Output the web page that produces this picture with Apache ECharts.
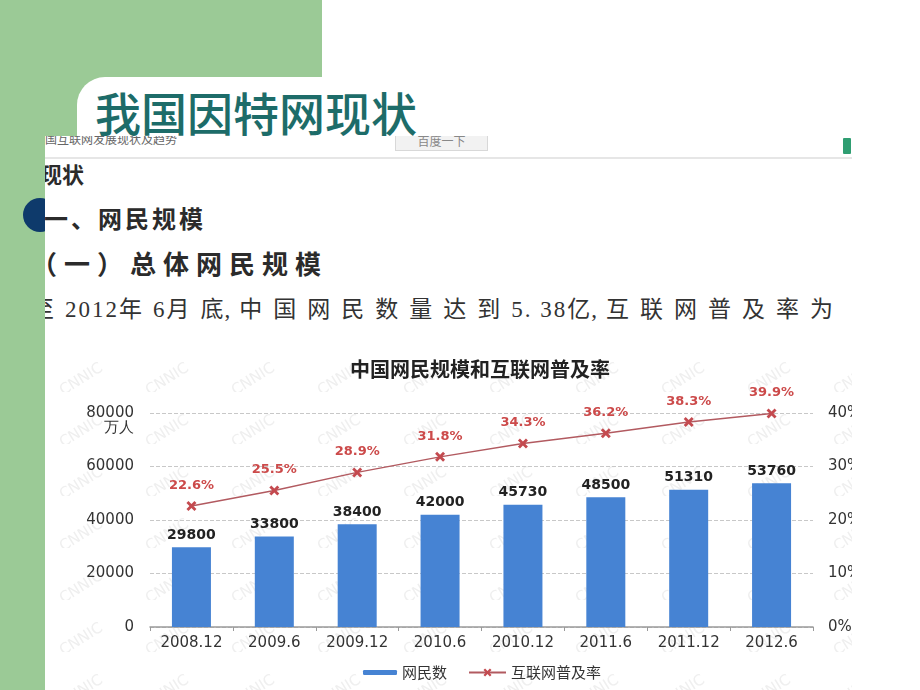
<!DOCTYPE html>
<html>
<head>
<meta charset="utf-8">
<script src="https://cdn.jsdelivr.net/npm/echarts@6/dist/echarts.min.js"></script>
<style>
    body{margin:0;width:920px;height:690px;position:relative;overflow:hidden;background:#fff;font-family:"Noto Sans CJK SC",sans-serif;}
    .green{position:absolute;background:#9bca96;}
    #panel{position:absolute;left:77px;top:77px;right:0;bottom:0;background:#fff;border-top-left-radius:28px;}
    #dot{position:absolute;left:23px;top:198px;width:34px;height:34px;border-radius:50%;background:#0e3a6b;}
    #shot{position:absolute;left:45px;top:136px;width:807px;height:554px;background:#fff;overflow:hidden;}
    #shot .t{position:absolute;white-space:nowrap;color:#2b2b2b;font-weight:bold;}
    #shot .d{letter-spacing:2px;}
    #shot .k{letter-spacing:1px;}
    #shot .c{letter-spacing:9px;}
    #mainTitle{position:absolute;left:95px;top:84px;font-size:46px;line-height:54px;color:#1d6c69;font-weight:500;white-space:nowrap;z-index:5;}
    #chart{position:absolute;left:0;top:204px;width:807px;height:350px;
        background-image:url("data:image/svg+xml,%3Csvg xmlns='http://www.w3.org/2000/svg' width='86' height='52'%3E%3Ctext x='8' y='40' transform='rotate(-32 40 30)' font-family='DejaVu Sans' font-size='15' fill='%23efefef'%3ECNNIC%3C/text%3E%3C/svg%3E");}
</style>
</head>
<body>
<div class="green" style="left:0;top:0;width:322px;height:120px;"></div>
<div class="green" style="left:0;top:0;width:100px;height:690px;"></div>
<div id="panel"></div>
<div id="dot"></div>
<div id="shot">
    <div style="position:absolute;left:0;top:-4px;font-size:12px;line-height:14px;color:#666;white-space:nowrap;">国互联网发展现状及趋势</div>
    <div style="position:absolute;left:350px;top:-3px;width:91px;height:16px;background:#f2f2f2;border:1px solid #d8d8d8;font-size:12px;line-height:14px;color:#888;text-align:center;">百度一下</div>
    <div style="position:absolute;left:0;top:21px;width:807px;height:2px;background:#e6e6e6;"></div>
    <div style="position:absolute;left:798px;top:2px;width:8px;height:16px;background:#2f9e72;border-radius:1px;"></div>
    <div class="t" style="left:-5px;top:26px;font-size:22px;line-height:22px;">现状</div>
    <div class="t" style="left:-1px;top:70px;font-size:24px;line-height:24px;letter-spacing:3px;">一、网民规模</div>
    <div class="t" style="left:-14px;top:114px;font-size:26px;line-height:26px;letter-spacing:7px;">（一）总体网民规模</div>
    <div class="t" style="left:-14px;top:162px;font-size:23px;line-height:23px;letter-spacing:11px;font-weight:normal;color:#333;font-family:'Liberation Serif','Noto Sans CJK SC',serif;">至<span class="d">2012</span>年<span class="d">6</span>月<span class="k">底</span><span class="c">,</span>中国网民数量达到<span class="d">5. 38</span><span class="k">亿</span><span class="c">,</span>互联网普及率为</div>
    <div id="chart"></div>
</div>
<div id="mainTitle">我国因特网现状</div>

<script>
var categories = ['2008.12', '2009.6', '2009.12', '2010.6', '2010.12', '2011.6', '2011.12', '2012.6'];
var netizens = [29800, 33800, 38400, 42000, 45730, 48500, 51310, 53760];
var penetration = [22.6, 25.5, 28.9, 31.8, 34.3, 36.2, 38.3, 39.9];

var crossIcon = 'path://M2,0L5,3L8,0L10,2L7,5L10,8L8,10L5,7L2,10L0,8L3,5L0,2Z';
var numFont = "'DejaVu Sans','Noto Sans CJK SC',sans-serif";
var cjkFont = "'Noto Sans CJK SC',sans-serif";

var chartDom = document.getElementById('chart');
var myChart = echarts.init(chartDom);
var option = {
    animation: false,
    title: {
        text: '中国网民规模和互联网普及率',
        left: 430,
        top: 14,
        textAlign: 'center',
        textStyle: {
            fontSize: 20,
            fontWeight: 'bold',
            color: '#222',
            fontFamily: cjkFont
        }
    },
    graphic: [
        {
            type: 'text',
            right: 718,
            top: 80,
            style: { text: '万人', fontSize: 15, fill: '#333', font: '15px ' + cjkFont }
        }
    ],
    legend: [
        {
            data: ['网民数'],
            left: 313,
            top: 320,
            itemWidth: 34,
            itemHeight: 5,
            textStyle: { fontSize: 15, color: '#333', fontFamily: cjkFont }
        },
        {
            data: ['互联网普及率'],
            left: 418,
            top: 320,
            itemWidth: 37,
            itemHeight: 10,
            textStyle: { fontSize: 15, color: '#333', fontFamily: cjkFont }
        }
    ],
    grid: {
        left: 105,
        right: 39,
        top: 73,
        bottom: 63,
        containLabel: false,
        outerBoundsMode: 'none'
    },
    xAxis: {
        type: 'category',
        data: categories,
        axisLine: { lineStyle: { color: '#9a9a9a', width: 1.5 } },
        axisTick: { show: true, length: 4, lineStyle: { color: '#9a9a9a' } },
        axisLabel: { fontSize: 15, color: '#333', margin: 9, fontFamily: numFont }
    },
    yAxis: [
        {
            type: 'value',
            min: 0,
            max: 80000,
            interval: 20000,
            axisLine: { show: false },
            axisTick: { show: false },
            axisLabel: {
                fontSize: 15, color: '#333', margin: 16, fontFamily: numFont,
                formatter: function (v) { return String(v); }
            },
            splitLine: { show: true, lineStyle: { type: 'dashed', color: '#c8c8c8' } }
        },
        {
            type: 'value',
            min: 0,
            max: 40,
            interval: 10,
            axisLine: { show: false },
            axisTick: { show: false },
            axisLabel: { fontSize: 15, color: '#333', margin: 15, formatter: '{value}%', fontFamily: numFont },
            splitLine: { show: false }
        }
    ],
    series: [
        {
            name: '网民数',
            type: 'bar',
            barWidth: 39,
            data: netizens,
            itemStyle: { color: '#4683d3' },
            label: {
                show: true,
                position: 'top',
                distance: 5,
                fontSize: 14,
                fontWeight: 'bold',
                color: '#222',
                fontFamily: numFont
            }
        },
        {
            name: '互联网普及率',
            type: 'line',
            yAxisIndex: 1,
            data: penetration,
            symbol: crossIcon,
            symbolSize: 10,
            lineStyle: { color: '#b25a60', width: 1.5 },
            itemStyle: { color: '#c44a4f' },
            label: {
                show: true,
                position: 'top',
                distance: 9,
                fontSize: 13,
                fontWeight: 'bold',
                color: '#cc4a4a',
                formatter: '{c}%',
                fontFamily: numFont
            }
        }
    ]
};
myChart.setOption(option, true);
</script>
</body>
</html>
